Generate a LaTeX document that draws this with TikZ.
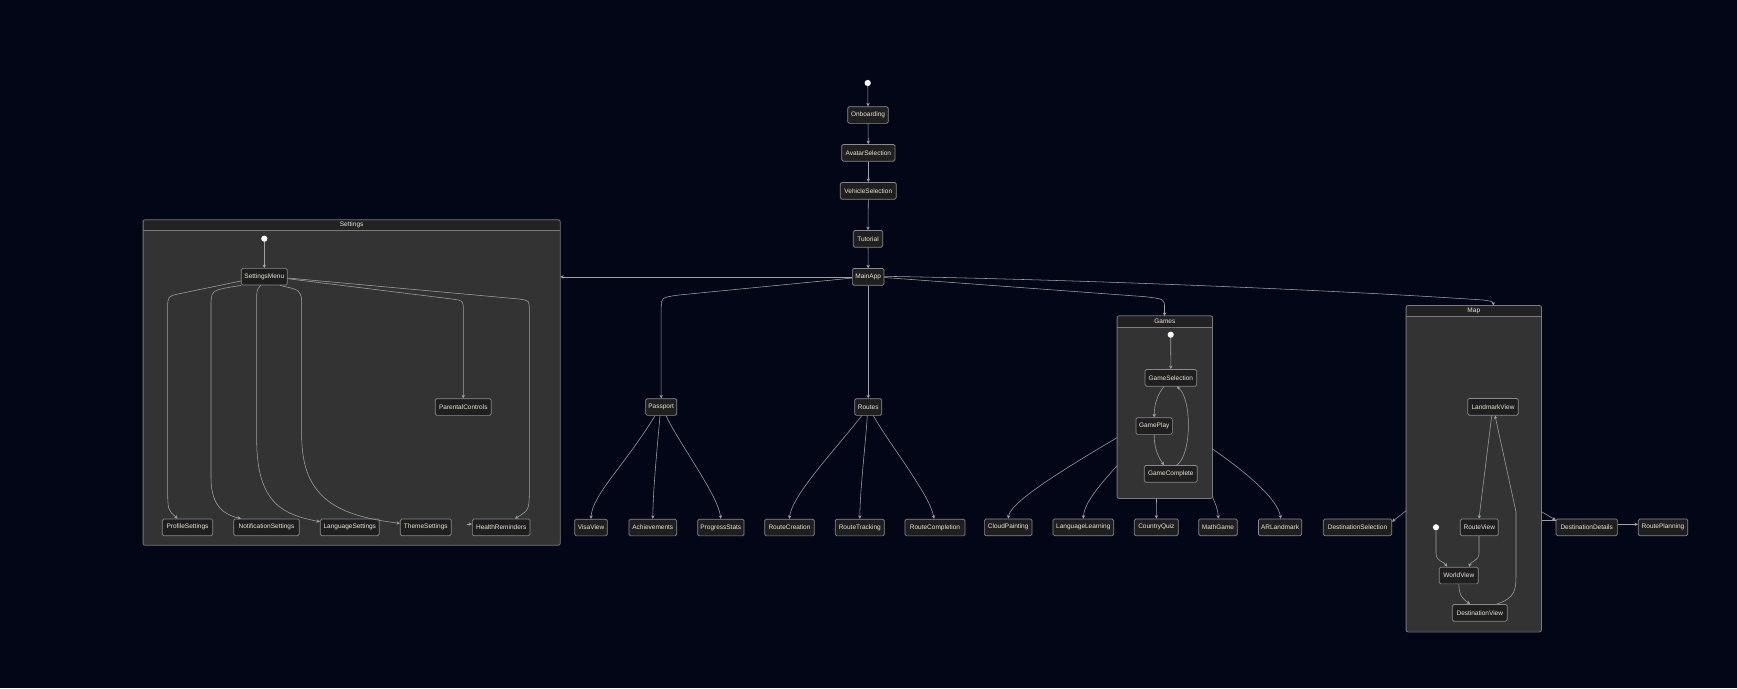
\documentclass[tikz,border=0pt]{standalone}
\usepackage{fontspec}
\setmainfont{Liberation Sans}
\usetikzlibrary{arrows.meta,calc}
\definecolor{bg}{HTML}{020617}
\definecolor{nodefill}{HTML}{1F1F1F}
\definecolor{nodeline}{HTML}{8A8A8A}
\definecolor{txt}{HTML}{ECE6D8}
\definecolor{edgec}{HTML}{A3A3A3}
\definecolor{clusfill}{HTML}{333333}
\definecolor{titlefill}{HTML}{222222}
\definecolor{clusline}{HTML}{7A7A7A}
\begin{document}
\begin{tikzpicture}[x=1pt,y=-1pt,
  st/.style={draw=nodeline, fill=nodefill, rounded corners=1.5pt, line width=0.7pt,
    minimum height=16.7pt, inner xsep=1pt, inner ysep=0pt,
    font=\fontsize{6.5}{7}\selectfont, text=txt},
  dot/.style={circle, fill=white, draw=none, inner sep=0pt, minimum size=6.2pt},
  clusbody/.style={fill=clusfill, draw=none, rounded corners=2pt, inner sep=0pt},
  clusborder/.style={draw=clusline, line width=0.8pt, rounded corners=2pt},
  ctitle/.style={font=\fontsize{6.5}{7}\selectfont, text=txt, inner sep=0pt},
  edge/.style={draw=edgec, line width=0.55pt, -{Stealth[length=3.4pt,width=3.4pt]}},
  edgeplain/.style={draw=edgec, line width=0.55pt}
]
\useasboundingbox[fill=bg] (0,0) rectangle (1737,688);

% ---------- clusters ----------
\node[clusbody, minimum width=416.7pt, minimum height=325pt] (Settings) at (351.65,382.5) {};
\fill[titlefill] (Settings.north west) rectangle ([yshift=-11pt]Settings.north east);
\draw[clusline, line width=0.8pt] ([yshift=-11pt]Settings.north west) -- ([yshift=-11pt]Settings.north east);
\draw[clusborder] (Settings.north west) rectangle (Settings.south east);
\node[ctitle] (SettingsTitle) at ([yshift=-5.5pt]Settings.north) {Settings};

\node[clusbody, minimum width=95pt, minimum height=182.3pt] (Games) at (1164.8,407.15) {};
\fill[titlefill] (Games.north west) rectangle ([yshift=-11.3pt]Games.north east);
\draw[clusline, line width=0.8pt] ([yshift=-11.3pt]Games.north west) -- ([yshift=-11.3pt]Games.north east);
\draw[clusborder] (Games.north west) rectangle (Games.south east);
\node[ctitle] (GamesTitle) at ([yshift=-5.6pt]Games.north) {Games};

\node[clusbody, minimum width=135pt, minimum height=326pt] (Map) at (1473.8,468.7) {};
\fill[titlefill] (Map.north west) rectangle ([yshift=-11pt]Map.north east);
\draw[clusline, line width=0.8pt] ([yshift=-11pt]Map.north west) -- ([yshift=-11pt]Map.north east);
\draw[clusborder] (Map.north west) rectangle (Map.south east);
\node[ctitle] (MapTitle) at ([yshift=-5.5pt]Map.north) {Map};

% ---------- main chain ----------
\node[dot] (init0) at (867.7,83) {};
\node[st, minimum width=40.6pt] (Onboarding) at (868,115) {Onboarding};
\node[st, minimum width=53.3pt] (AvatarSelection) at (868.3,152.8) {AvatarSelection};
\node[st, minimum width=56pt] (VehicleSelection) at (868.3,190.8) {VehicleSelection};
\node[st, minimum width=29.4pt] (Tutorial) at (868,238.8) {Tutorial};
\node[st, minimum width=31.7pt] (MainApp) at (868.2,276.9) {MainApp};

% ---------- settings ----------
\node[dot] (init1) at (264.3,238.7) {};
\node[st, minimum width=46pt] (SettingsMenu) at (264.3,276.7) {SettingsMenu};
\node[st, minimum width=56pt] (ParentalControls) at (463.3,407) {ParentalControls};
\node[st, minimum width=50.4pt] (ProfileSettings) at (187.5,527.3) {ProfileSettings};
\node[st, minimum width=65.6pt] (NotificationSettings) at (266.5,527.3) {NotificationSettings};
\node[st, minimum width=59pt] (LanguageSettings) at (349.8,527.3) {LanguageSettings};
\node[st, minimum width=51pt] (ThemeSettings) at (425.8,527.3) {ThemeSettings};
\node[st, minimum width=57.7pt] (HealthReminders) at (501.2,527.3) {HealthReminders};

% ---------- passport / routes ----------
\node[st, minimum width=31pt] (Passport) at (661.2,407) {Passport};
\node[st, minimum width=27pt] (Routes) at (868.2,407) {Routes};
\node[st, minimum width=32.6pt] (VisaView) at (591,527.5) {VisaView};
\node[st, minimum width=47.7pt] (Achievements) at (652.8,527.5) {Achievements};
\node[st, minimum width=46.3pt] (ProgressStats) at (720.8,527.5) {ProgressStats};
\node[st, minimum width=49.6pt] (RouteCreation) at (789.5,527.5) {RouteCreation};
\node[st, minimum width=49pt] (RouteTracking) at (859.8,527.5) {RouteTracking};
\node[st, minimum width=60pt] (RouteCompletion) at (935,527.5) {RouteCompletion};

% ---------- games ----------
\node[dot] (init2) at (1170.7,334.7) {};
\node[st, minimum width=51.7pt] (GameSelection) at (1170.8,377.8) {GameSelection};
\node[st, minimum width=36.3pt] (GamePlay) at (1154.2,426) {GamePlay};
\node[st, minimum width=53pt] (GameComplete) at (1170.8,473.8) {GameComplete};
\node[st, minimum width=47.7pt] (CloudPainting) at (1008.2,527.3) {CloudPainting};
\node[st, minimum width=60.7pt] (LanguageLearning) at (1083.3,527.3) {LanguageLearning};
\node[st, minimum width=44pt] (CountryQuiz) at (1156.3,527.3) {CountryQuiz};
\node[st, minimum width=38.6pt] (MathGame) at (1218,527.3) {MathGame};
\node[st, minimum width=43.2pt] (ARLandmark) at (1280.1,527.3) {ARLandmark};

% ---------- map ----------
\node[st, minimum width=50.6pt] (LandmarkView) at (1493,406.8) {LandmarkView};
\node[st, minimum width=38pt] (RouteView) at (1479.3,527.3) {RouteView};
\node[dot] (init3) at (1436,527.3) {};
\node[st, minimum width=39pt] (WorldView) at (1458.8,575.5) {WorldView};
\node[st, minimum width=55pt] (DestinationView) at (1479.8,612.8) {DestinationView};
\node[st, minimum width=68.4pt] (DestinationSelection) at (1357.5,527.3) {DestinationSelection};
\node[st, minimum width=61.3pt] (DestinationDetails) at (1586.7,527.3) {DestinationDetails};
\node[st, minimum width=49.4pt] (RoutePlanning) at (1663,527.3) {RoutePlanning};

% ---------- edges: main chain ----------
\draw[edge] (init0) -- (Onboarding.north);
\draw[edge] (Onboarding.south) -- (AvatarSelection.north);
\draw[edge] (AvatarSelection.south) -- (VehicleSelection.north);
\draw[edge] (VehicleSelection.south) -- (Tutorial.north);
\draw[edge] (Tutorial.south) -- (MainApp.north);

% MainApp outgoing
\draw[edge] (MainApp.west) -- (MainApp.west -| Settings.east);
\draw[edge] ([yshift=-1.2pt]MainApp.west) -- (679,295) .. controls (661.2,297.5) .. (661.2,308) -- (Passport.north);
\draw[edge] (MainApp.south) -- (Routes.north);
\draw[edge] ([yshift=-0.6pt]MainApp.east) -- (1145,296.7) .. controls (1164.5,299) .. (1164.5,308) -- ([xshift=-0.3pt]Games.north);
\draw[edge] ([yshift=0.6pt]MainApp.east) .. controls (1100,280) and (1350,291) .. (1483,300) .. controls (1493.3,301.5) .. ([xshift=19.5pt]Map.north);

% ---------- edges: settings ----------
\draw[edge] (init1) -- (SettingsMenu.north);
\draw[edge] ([yshift=-4.3pt]SettingsMenu.west) -- (178,294) .. controls (167.7,296.5) .. (167.7,308) -- (167.7,488) .. controls (167.7,510) .. ([xshift=-9.8pt]ProfileSettings.north);
\draw[edge] (SettingsMenu.south west) .. controls (212,290) .. (211,302) -- (211,478) .. controls (211,508) and (226,515) .. ([xshift=-25.5pt]NotificationSettings.north);
\draw[edge] ([xshift=-3.6pt]SettingsMenu.south) .. controls (256.7,290) .. (256.7,300) -- (256.7,440) .. controls (256.7,505) and (285,515) .. ([yshift=5.6pt]LanguageSettings.west);
\draw[edge] ([xshift=15.7pt]SettingsMenu.south) .. controls (300,290) .. (301.7,300) -- (301.7,436) .. controls (301.7,500) and (340,516) .. ([yshift=4pt]ThemeSettings.west);
\draw[edge] ([yshift=-2pt]SettingsMenu.east) -- (452,299) .. controls (463.3,300.5) .. (463.3,310) -- (ParentalControls.north);
\draw[edge] ([yshift=-1.3pt]SettingsMenu.east) -- (519,299) .. controls (529.3,300.5) .. (529.3,310) -- (529.3,488) .. controls (529.3,510) .. ([xshift=13.8pt]HealthReminders.north);
\draw[edge] ([xshift=-5pt,yshift=3.3pt]HealthReminders.west) -- ([yshift=3.3pt]HealthReminders.west);

% ---------- edges: passport / routes ----------
\draw[edge] ([xshift=-6.2pt]Passport.south) .. controls (625,465) and (592,495) .. (VisaView.north);
\draw[edge] ([xshift=-1.2pt]Passport.south) .. controls (657,450) and (653,490) .. (Achievements.north);
\draw[edge] ([xshift=4.8pt]Passport.south) .. controls (680,445) and (718,495) .. (ProgressStats.north);
\draw[edge] ([xshift=-6.5pt]Routes.south) .. controls (835,450) and (792,495) .. ([xshift=-0.2pt]RouteCreation.north);
\draw[edge] ([xshift=-0.9pt]Routes.south) .. controls (865,450) and (860,490) .. (RouteTracking.north);
\draw[edge] ([xshift=5.1pt]Routes.south) .. controls (890,445) and (930,495) .. ([xshift=-1pt]RouteCompletion.north);

% ---------- edges: games ----------
\draw[edge] (init2) -- (GameSelection.north);
\draw[edge] ([xshift=-6.8pt]GameSelection.south) .. controls (1157,395) and (1154.2,405) .. (GamePlay.north);
\draw[edge] (GamePlay.south) .. controls (1154.2,450) and (1159,458) .. ([xshift=-6.8pt]GameComplete.north);
\draw[edge] ([xshift=5.9pt]GameComplete.north) .. controls (1192,455) and (1192,398) .. ([xshift=5.9pt]GameSelection.south);
\draw[edge] ([yshift=-30.5pt]Games.west) .. controls (1040,483) and (1010,505) .. (CloudPainting.north);
\draw[edge] ([yshift=-58.5pt]Games.west) .. controls (1095,490) and (1084,505) .. (LanguageLearning.north);
\draw[edge] ([xshift=-8.3pt]Games.south) -- (CountryQuiz.north);
\draw[edge] ([yshift=1.6pt]Games.south east) .. controls (1216,505) and (1218,510) .. ([xshift=0.3pt]MathGame.north);
\draw[edge] ([yshift=-41.85pt]Games.east) .. controls (1250,475) and (1278,500) .. ([xshift=0.6pt]ARLandmark.north);

% ---------- edges: map ----------
\draw[edge] ([yshift=-42pt]Map.west) -- ([yshift=5.6pt]DestinationSelection.east);
\draw[edge] ([yshift=-43pt]Map.east) -- ([yshift=7.3pt]DestinationDetails.west);
\draw[edgeplain] ([yshift=-51.3pt]Map.east) -- ([yshift=7.3pt]DestinationDetails.west);
\draw[edge] ([yshift=3pt]DestinationDetails.east) -- ([yshift=3pt]RoutePlanning.west);
\draw[edge] (init3) -- (1436,553) .. controls (1436,562) and (1444,561) .. ([xshift=-12.1pt]WorldView.north);
\draw[edge] ([xshift=-0.3pt]RouteView.south) -- (1479,553) .. controls (1479,561) and (1471,561) .. ([xshift=10.2pt]WorldView.north);
\draw[edge] (WorldView.south) .. controls (1459,598) and (1465,600) .. ([xshift=-9.8pt]DestinationView.north);
\draw[edge] ([xshift=16.9pt]DestinationView.north) .. controls (1515,598) and (1516,590) .. (1516,575) -- (1516,512) -- ([xshift=2pt]LandmarkView.south);
\draw[edge] ([xshift=-1.3pt]LandmarkView.south) -- ([xshift=-0.3pt]RouteView.north);
\end{tikzpicture}
\end{document}
